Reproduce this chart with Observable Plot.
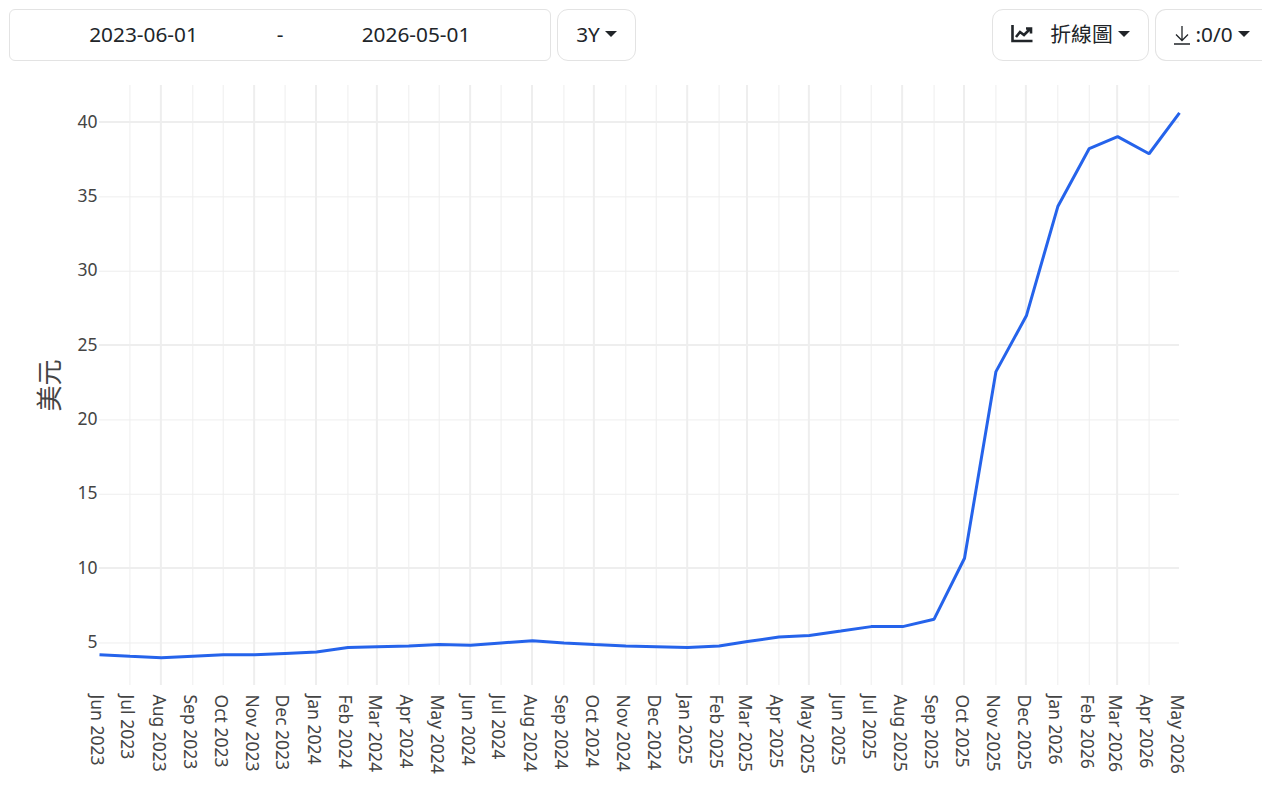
<!DOCTYPE html>
<html lang="zh-Hant">
<head>
<meta charset="utf-8">
<script src="https://cdn.jsdelivr.net/npm/d3@7"></script>
<script src="https://cdn.jsdelivr.net/npm/@observablehq/plot@0.6"></script>
<style>
html,body{margin:0;padding:0;background:#fff;overflow:hidden;width:1262px;height:786px}
body{position:relative;font-family:"Noto Sans","Noto Sans CJK TC",sans-serif;color:#212529}
.box{position:absolute;top:9px;height:50px;border:1px solid #e3e3e3;box-sizing:content-box;font-size:20.800px;line-height:48px;white-space:nowrap;background:#fff}
.t{position:absolute;top:0;transform:translateX(-50%)}
.caret{position:absolute;top:21px;width:0;height:0;border-left:6px solid transparent;border-right:6px solid transparent;border-top:6px solid #212529}
svg.ic{position:absolute}
#chart{position:absolute;left:0;top:70px;background:#fff}
</style>
</head>
<body>
<div class="box" style="left:9px;width:540px;border-radius:6px">
  <span class="t" style="left:133.500px">2023-06-01</span>
  <span class="t" style="left:270px">-</span>
  <span class="t" style="left:406px">2026-05-01</span>
</div>
<div class="box" style="left:557px;width:77px;border-radius:11px">
  <span class="t" style="left:30px">3Y</span><i class="caret" style="left:47px"></i>
</div>
<div class="box" style="left:992px;width:155px;border-radius:11px">
  <svg class="ic" style="left:18px;top:14px" width="22" height="20" viewBox="0 0 22 20"><path d="M1.5 1v16h20" fill="none" stroke="#212529" stroke-width="2.6"/><path d="M5 13l4-5 4 3 6-6M15 4.5h5v5" fill="none" stroke="#212529" stroke-width="2.6"/></svg>
  <span class="t" style="left:88.500px">折線圖</span><i class="caret" style="left:125px"></i>
</div>
<div class="box" style="left:1155px;width:120px;border-radius:11px 0 0 11px;border-right:0">
  <svg class="ic" style="left:17px;top:15px" width="18" height="20" viewBox="0 0 18 20"><path d="M9 1v14M3 9.500l6 6 6-6M1 19h16" fill="none" stroke="#212529" stroke-width="1.300"/></svg>
  <span class="t" style="left:58px">:0/0</span><i class="caret" style="left:82px"></i>
</div>
<div id="chart"></div>
<script>
const months = ["2023-06","2023-07","2023-08","2023-09","2023-10","2023-11","2023-12","2024-01","2024-02","2024-03","2024-04","2024-05","2024-06","2024-07","2024-08","2024-09","2024-10","2024-11","2024-12","2025-01","2025-02","2025-03","2025-04","2025-05","2025-06","2025-07","2025-08","2025-09","2025-10","2025-11","2025-12","2026-01","2026-02","2026-03","2026-04","2026-05"];
const prices = [4.2,4.1,4.0,4.1,4.2,4.2,4.3,4.4,4.7,4.75,4.8,4.9,4.85,5.0,5.15,5.0,4.9,4.8,4.75,4.7,4.8,5.1,5.4,5.5,5.8,6.1,6.1,6.6,10.7,23.25,27.0,34.35,38.25,39.05,37.9,40.65];
const yTicks = [5,10,15,20,25,30,35,40];
const yGridHeavy = [10,25,40];
const xGridHeavy = ["2023-08","2023-11","2024-01","2024-03","2024-06","2024-08","2024-10","2025-01","2025-03","2025-05","2025-08","2025-10","2025-12","2026-03"];
const yDomain = [2.14,42.49];

const parse = d3.utcParse("%Y-%m");
const dates = months.map(parse);
const rows = dates.map((date,i)=>({date,price:prices[i]}));
const inner = dates.slice(1,-1);
const heavy = xGridHeavy.map(parse);
const isHeavy = d => xGridHeavy.includes(d3.utcFormat("%Y-%m")(d));

const grid = "#eeeeee";
const chart = Plot.plot({
  width:1262,height:716,
  marginLeft:99,marginRight:83,marginTop:15,marginBottom:101,
  style:{fontFamily:'"Noto Sans","Noto Sans CJK TC",sans-serif',background:"#fff",overflow:"visible"},
  x:{type:"utc",domain:[dates[0],dates[dates.length-1]],label:null},
  y:{domain:yDomain,label:null},
  marks:[
    Plot.ruleX(inner.filter(d=>!isHeavy(d)),{stroke:grid,strokeWidth:1}),
    Plot.ruleX(heavy,{stroke:grid,strokeWidth:2,dx:-0.5}),
    Plot.ruleY(yTicks.filter(v=>!yGridHeavy.includes(v)),{stroke:grid,strokeWidth:1}),
    Plot.ruleY(yGridHeavy,{stroke:grid,strokeWidth:2,dy:-0.5}),
    Plot.lineY(rows,{x:"date",y:"price",stroke:"#2563eb",strokeWidth:3,strokeLinecap:"butt",strokeLinejoin:"miter",curve:"linear"}),
    Plot.axisX({ticks:dates,tickFormat:d3.utcFormat("%b %Y"),tickRotate:90,tickSize:0,tickPadding:9,fontSize:17.500,fill:"#444",label:null,dx:-3}),
    Plot.axisY({ticks:yTicks,tickSize:0,tickPadding:2,fontSize:17.500,fill:"#444",label:null,dy:-0.5}),
    Plot.text(["美元"],{frameAnchor:"left",textAnchor:"middle",dx:-49,rotate:-90,fontSize:26,fill:"#444"})
  ]
});
document.getElementById("chart").appendChild(chart);
</script>
</body>
</html>
